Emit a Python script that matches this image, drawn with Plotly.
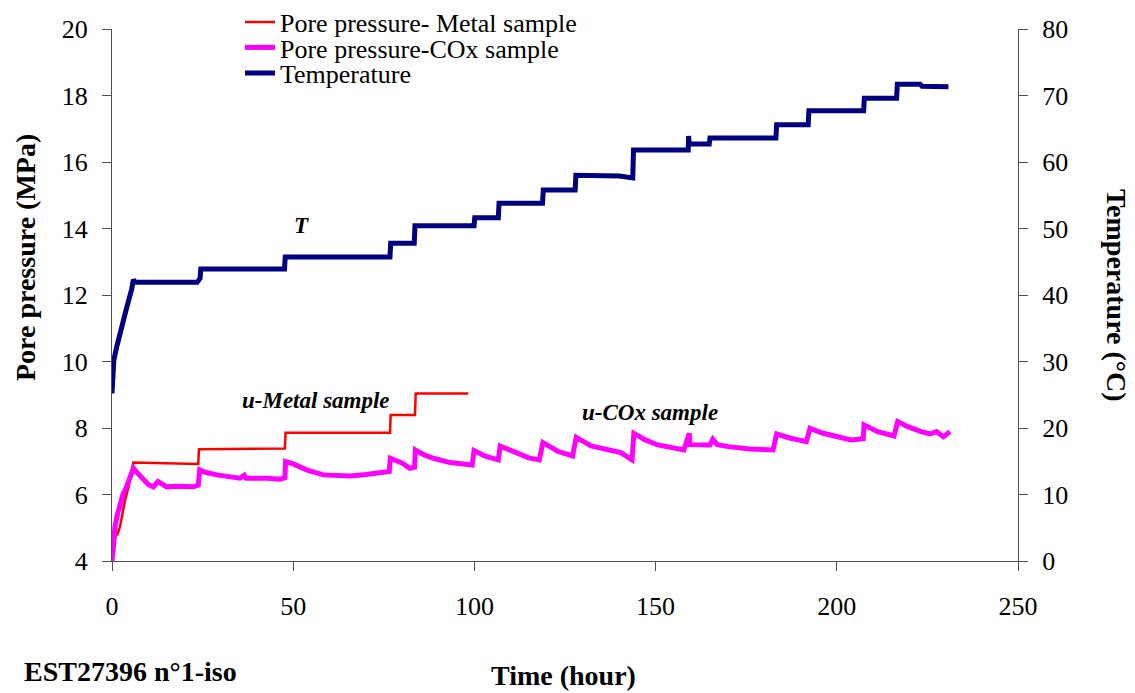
import plotly.graph_objects as go

# ---------------- data ----------------
# Temperature (°C) vs time (hour)
temp_t = [0, 0.3, 0.5, 1.3, 2.0, 2.7, 3.3, 4.0, 4.8, 5.4, 5.9, 6.5,
          23.5, 24.3, 24.5, 47.6, 47.8, 76.7, 76.9, 83.4, 83.6, 99.9, 100.1,
          106.6, 106.8, 118.8, 119.0, 127.8, 128.0, 140.0, 143.7, 143.9,
          159.0, 159.1, 159.3, 164.8, 165.0, 183.2, 183.4, 192.1, 192.3,
          207.4, 207.6, 216.5, 216.7, 223.0, 223.5, 230.8]
temp_v = [25.2, 28.0, 30.2, 32.2, 33.5, 35.2, 36.5, 38.0, 39.5, 40.8, 42.3, 41.9,
          41.9, 42.5, 43.9, 43.9, 45.7, 45.7, 47.8, 47.8, 50.4, 50.4, 51.6,
          51.6, 53.8, 53.8, 55.8, 55.8, 58.0, 57.9, 57.6, 61.8,
          61.8, 63.9, 62.7, 62.7, 63.6, 63.6, 65.6, 65.6, 67.7,
          67.7, 69.6, 69.6, 71.7, 71.7, 71.4, 71.3]

# Pore pressure, COx sample (MPa)
cox_t = [0, 0.4, 0.8, 1.5, 2.2, 3.0, 4.0, 5.0, 5.9, 7.0, 8.6, 10.0, 11.4, 12.7,
         15.1, 18.0, 22.4, 23.8, 24.2, 26.0, 28.9, 32.0, 35.3, 36.5, 37.0,
         42.7, 46.4, 47.7, 47.9, 50.0, 53.7, 58.3, 62.0, 65.7, 70.0, 72.1,
         76.5, 76.8, 80.0, 82.2, 83.5, 83.7, 86.0, 88.7, 93.3, 99.4, 99.9,
         103.0, 106.6, 107.1, 111.7, 115.0, 117.9, 118.9, 123.0, 127.1, 128.1,
         132.2, 140.4, 143.5, 144.0, 147.0, 150.6, 157.8, 159.3, 159.5, 165.0,
         165.8, 167.0, 170.1, 176.0, 182.4, 183.4, 187.0, 191.6, 192.6, 196.0,
         200.0, 203.9, 207.3, 207.5, 211.3, 215.8, 216.8, 219.6, 223.3, 225.7,
         227.5, 229.4, 231.2]
cox_p = [4.0, 4.6, 5.03, 5.4, 5.74, 6.0, 6.23, 6.5, 6.79, 6.65, 6.44, 6.30, 6.23, 6.39,
         6.23, 6.25, 6.23, 6.28, 6.74, 6.66, 6.59, 6.55, 6.49, 6.58, 6.49,
         6.49, 6.46, 6.50, 6.99, 6.92, 6.74, 6.59, 6.57, 6.56, 6.60, 6.64,
         6.69, 7.09, 6.95, 6.79, 6.82, 7.34, 7.20, 7.09, 6.96, 6.89, 7.32,
         7.15, 7.04, 7.46, 7.24, 7.10, 7.04, 7.56, 7.30, 7.16, 7.72,
         7.46, 7.26, 7.04, 7.84, 7.65, 7.49, 7.34, 7.84, 7.50, 7.49,
         7.66, 7.50, 7.44, 7.37, 7.34, 7.82, 7.70, 7.59, 7.99, 7.85,
         7.74, 7.64, 7.68, 8.09, 7.89, 7.76, 8.19, 8.04, 7.89, 7.82,
         7.89, 7.74, 7.89]

# Pore pressure, metal sample (MPa)
metal_t = [0, 0.5, 1.0, 1.5, 2.2, 3.0, 3.6, 4.5, 5.4, 5.9, 23.8, 24.0,
           47.7, 47.9, 76.7, 76.9, 83.6, 83.8, 98.3]
metal_p = [4.03, 4.3, 4.8, 4.8, 5.03, 5.5, 5.83, 6.2, 6.74, 6.96, 6.92, 7.36,
           7.38, 7.86, 7.86, 8.39, 8.39, 9.04, 9.04]

x_ticks = [0, 50, 100, 150, 200, 250]
y_ticks = [4, 6, 8, 10, 12, 14, 16, 18, 20]
y2_ticks = [0, 10, 20, 30, 40, 50, 60, 70, 80]

FONT = "Liberation Serif"
AX = "#505050"
PAGE_OFF = 8  # default page margin around the figure

fig = go.Figure()
fig.add_trace(go.Scatter(x=metal_t, y=metal_p, mode="lines",
                         name="Pore pressure- Metal sample", legend="legend",
                         line=dict(color="#FF0000", width=2.5)))
fig.add_trace(go.Scatter(x=cox_t, y=cox_p, mode="lines",
                         name="Pore pressure-COx sample", legend="legend2",
                         line=dict(color="#FF00FF", width=5)))
fig.add_trace(go.Scatter(x=temp_t, y=temp_v, mode="lines", name="Temperature",
                         legend="legend3",
                         line=dict(color="#000080", width=5), yaxis="y2"))

axis_common = dict(showgrid=False, zeroline=False, showline=True, linecolor=AX,
                   linewidth=1.3, ticks="outside", ticklen=9, tickcolor=AX,
                   tickwidth=1.3, tickfont=dict(family=FONT, size=26, color="black"))

leg_common = dict(xanchor="left", yanchor="middle", bgcolor="rgba(0,0,0,0)",
                  font=dict(family=FONT, size=26, color="black"), itemwidth=30)
LEG_X = (240 - 112) / 906

fig.update_layout(
    width=1135 - PAGE_OFF, height=693 - PAGE_OFF,
    margin=dict(l=112 - PAGE_OFF, r=117, t=29 - PAGE_OFF, b=132, autoexpand=False),
    paper_bgcolor="white", plot_bgcolor="white",
    font=dict(family=FONT, color="black"),
    xaxis=dict(range=[0, 250], tickvals=x_ticks, ticklabelstandoff=13, **axis_common),
    yaxis=dict(range=[4, 20], tickvals=y_ticks, ticklabelstandoff=9, **axis_common),
    yaxis2=dict(range=[0, 80], tickvals=y2_ticks, overlaying="y", side="right",
                ticklabelstandoff=9, **axis_common),
    showlegend=True,
    legend=dict(x=LEG_X, y=(561 - 22.0) / 532, **leg_common),
    legend2=dict(x=LEG_X, y=(561 - 47.5) / 532, **leg_common),
    legend3=dict(x=LEG_X, y=(561 - 73.0) / 532, **leg_common),
)


def px_x(p):
    return (p - 112) / 906


def px_y(p):
    return (561 - p) / 532


annots = [
    dict(x=52.4, y=14.1, xref="x", yref="y", text="<b><i>T</i></b>",
         font=dict(size=23)),
    dict(x=56.3, y=8.84, xref="x", yref="y", text="<b><i>u-Metal sample</i></b>",
         font=dict(size=23)),
    dict(x=148.5, y=8.47, xref="x", yref="y", text="<b><i>u-COx sample</i></b>",
         font=dict(size=23)),
    dict(x=px_x(25), y=px_y(258), xref="paper", yref="paper",
         text="<b>Pore pressure (MPa)</b>", textangle=-90, font=dict(size=28)),
    dict(x=px_x(1117), y=px_y(295), xref="paper", yref="paper",
         text="<b>Temperature (°C)</b>", textangle=90, font=dict(size=28)),
    dict(x=px_x(563), y=px_y(675), xref="paper", yref="paper",
         text="<b>Time (hour)</b>", font=dict(size=28)),
    dict(x=px_x(22), y=px_y(671), xref="paper", yref="paper", xanchor="left",
         text="<b>EST27396 n°1-iso</b>", font=dict(size=28)),
]
for a in annots:
    a.setdefault("xanchor", "center")
    a["yanchor"] = "middle"
    a["showarrow"] = False
    a["font"]["family"] = FONT
    a["font"]["color"] = "black"
    fig.add_annotation(**a)

fig.write_html("out.html")
